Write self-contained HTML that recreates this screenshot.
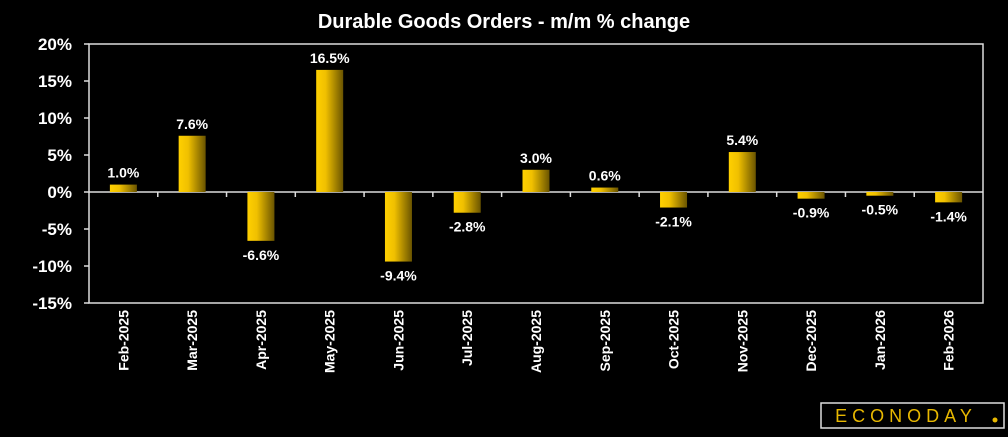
<!DOCTYPE html>
<html><head><meta charset="utf-8"><style>
body{margin:0;background:#000;width:1008px;height:432px;overflow:hidden;font-family:"Liberation Sans",sans-serif}
</style></head><body>
<svg width="1008" height="432">
<defs><linearGradient id="g" x1="0" x2="1" y1="0" y2="0"><stop offset="0" stop-color="#ffd000"/><stop offset="0.35" stop-color="#f0c000"/><stop offset="1" stop-color="#6a5400"/></linearGradient></defs>
<text x="504" y="28" fill="#fff" font-size="20" font-weight="bold" text-anchor="middle">Durable Goods Orders - m/m % change</text>
<g id="axes"></g><g id="bars"></g>
<g>
<rect x="821" y="403" width="183" height="25" fill="#000" stroke="#ddd" stroke-width="1.5"/>
<text x="906" y="422" fill="#e8b800" font-size="18" text-anchor="middle" letter-spacing="5">ECONODAY</text>
<circle cx="995" cy="420" r="2.5" fill="#e8b800"/>
</g>
</svg>
<script>
const categories=["Feb-2025","Mar-2025","Apr-2025","May-2025","Jun-2025","Jul-2025","Aug-2025","Sep-2025","Oct-2025","Nov-2025","Dec-2025","Jan-2026","Feb-2026"];
const values=[1.0,7.6,-6.6,16.5,-9.4,-2.8,3.0,0.6,-2.1,5.4,-0.9,-0.5,-1.4];
const yTicks=[20,15,10,5,0,-5,-10,-15];
const NS="http://www.w3.org/2000/svg";
const L=89,R=983,T=44,B=303,yMax=20,yMin=-15;
const y=v=>T+(yMax-v)/(yMax-yMin)*(B-T);
const bw=(R-L)/categories.length;
const x=i=>L+bw*(i+0.5);
function mk(t,a,p){const e=document.createElementNS(NS,t);for(const k in a)e.setAttribute(k,a[k]);p.appendChild(e);return e;}
const ax=document.getElementById('axes'),bars=document.getElementById('bars');
const frame=mk('rect',{x:L,y:T,width:R-L,height:B-T,fill:'none',stroke:'#ddd','stroke-width':1.5},ax);


const zl=mk('line',{x1:L,x2:R,y1:y(0),y2:y(0),stroke:'#ddd','stroke-width':1.5},ax);


yTicks.forEach(v=>{
 mk('line',{x1:L-5,x2:L,y1:y(v),y2:y(v),stroke:'#ddd','stroke-width':1.5},ax);
 const t=mk('text',{x:L-17,y:y(v)+6,fill:'#fff','font-size':17,'font-weight':'bold','text-anchor':'end'},ax);
 t.textContent=v+'%';
 
 
});
for(let i=1;i<categories.length;i++)mk('line',{x1:L+bw*i,x2:L+bw*i,y1:y(0),y2:y(0)+5,stroke:'#ddd','stroke-width':1.5},ax);
categories.forEach((c,i)=>{
 const v=values[i],cx=x(i),w=27;
 const r=mk('rect',{x:cx-w/2,y:Math.min(y(v),y(0)),width:w,height:Math.abs(y(v)-y(0)),fill:'url(#g)'},bars);
 
 
 const lb=mk('text',{x:cx,y:v>=0?y(v)-7:y(v)+19,fill:'#fff','font-size':14,'font-weight':'bold','text-anchor':'middle'},bars);
 lb.textContent=v.toFixed(1)+'%';
 
 
 const xl=mk('text',{x:0,y:0,fill:'#fff','font-size':14,'font-weight':'bold','text-anchor':'end',transform:`translate(${cx+5},${B+7}) rotate(-90)`},ax);
 xl.textContent=c;
 
 
});
</script>
</body></html>
